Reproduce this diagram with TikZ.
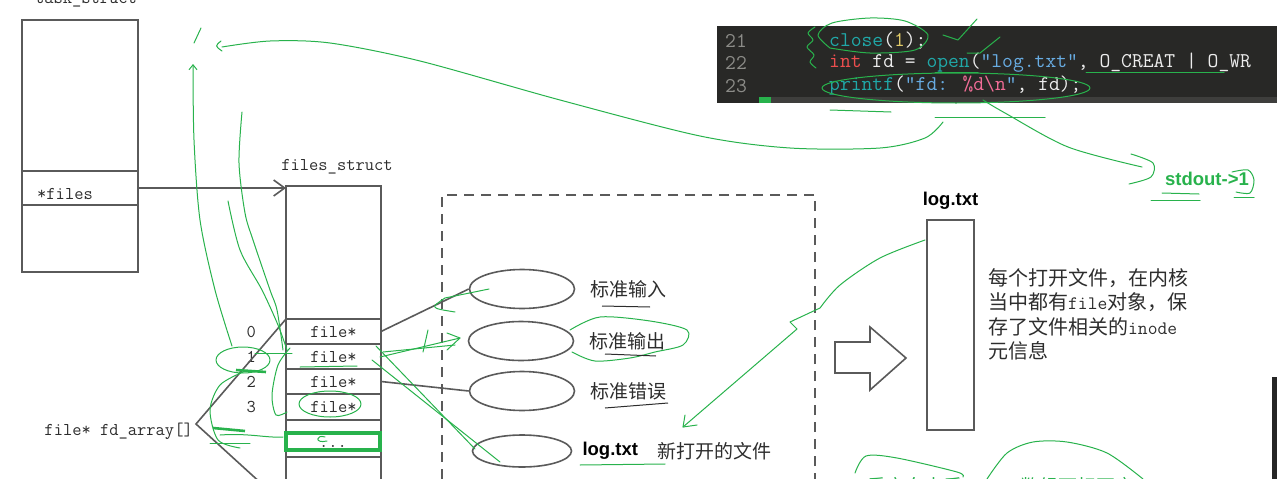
\documentclass[tikz,border=0pt]{standalone}
\usepackage{fontspec}
\newfontfamily\cjkfont{Noto Sans CJK SC}
\newfontfamily\headfont{Liberation Sans}
\usetikzlibrary{shapes.geometric, arrows.meta, positioning, calc}

\definecolor{linegray}{RGB}{90,90,90}
\definecolor{txtgray}{RGB}{45,45,45}
\definecolor{annot}{RGB}{40,178,76}
\definecolor{codebg}{RGB}{40,40,38}
\definecolor{codestrip}{RGB}{62,62,60}
\definecolor{lnum}{RGB}{140,140,136}
\definecolor{ckw}{RGB}{32,168,168}
\definecolor{cint}{RGB}{236,78,78}
\definecolor{cnum}{RGB}{226,204,104}
\definecolor{cstr}{RGB}{104,172,226}
\definecolor{cfmt}{RGB}{240,108,150}
\definecolor{cplain}{RGB}{236,236,236}

\begin{document}
\begin{tikzpicture}[
    x=1pt, y=-1pt,
    part/.style={
      draw=linegray, line width=1.6pt, outer sep=0pt, inner sep=0pt,
      minimum width=95pt, minimum height=#1,
      font=\ttfamily\fontsize{18}{20}\selectfont, text=txtgray
    },
    lbl/.style={font=\ttfamily\fontsize{18}{20}\selectfont, text=txtgray, inner sep=0pt},
    oval/.style={
      ellipse, draw=linegray, line width=1.6pt, inner sep=0pt,
      minimum width=105pt, minimum height=39pt
    },
    zh/.style={font=\cjkfont\fontsize{19}{22}\selectfont, text=txtgray, inner sep=0pt},
    boldlbl/.style={font=\headfont\bfseries\fontsize{18.5}{21}\selectfont, inner sep=0pt},
    codeline/.style={font=\ttfamily\fontsize{21}{24}\selectfont, text=cplain, anchor=west, inner sep=0pt},
    lineno/.style={font=\ttfamily\fontsize{21}{24}\selectfont, text=lnum, anchor=west, inner sep=0pt},
    conn/.style={draw=linegray, line width=1.6pt},
    note/.style={draw=annot, line width=1pt, line cap=round, line join=round},
    hilite/.style={draw=annot, line width=2.6pt}
  ]
  \useasboundingbox (0,0) rectangle (1277,479);
  \clip (0,0) rectangle (1277,479);

  % ===== task_struct =====
  \node[part=151pt, minimum width=116pt, anchor=north west] (taskTop) at (22,20) {};
  \node[part=34pt, minimum width=116pt, below=0pt of taskTop] (taskFiles) {};
  \node[part=67pt, minimum width=116pt, below=0pt of taskFiles] (taskBot) {};
  \node[lbl, anchor=base] (taskName) at (86,4) {task\_struct};
  \node[lbl, anchor=west] (filesPtr) at (37,194) {*files};

  % ===== files_struct =====
  \node[part=133pt, anchor=north west] (filesTop) at (286,186) {};
  \node[part=25pt, below=0pt of filesTop] (slot0) {file*};
  \node[part=25pt, below=0pt of slot0] (slot1) {file*};
  \node[part=25pt, below=0pt of slot1] (slot2) {file*};
  \node[part=26pt, below=0pt of slot2] (slot3) {file*};
  \node[part=37pt, below=0pt of slot3] (slot4) {};
  \node[part=73pt, below=0pt of slot4] (slotRest) {};
  \node[lbl, anchor=base] (filesName) at (337,170) {files\_struct};
  \node[lbl] (more) at (333,446) {...};

  \draw[conn, -{Straight Barb[length=11pt, width=16pt]}] (taskFiles.east) -- (taskFiles.east -| filesTop.west);

  \foreach \i in {0,...,3}
    \node[lbl, left=30pt of slot\i] (idx\i) {\i};

  % fd_array
  \node[lbl, anchor=base east] (fdArray) at (193,435) {file* fd\_array[]};
  \coordinate (apex) at (196,424);
  \coordinate (arrEnd) at (286,506);
  \draw[conn] (slot0.north west) -- (apex) -- (arrEnd);

  % ===== file objects =====
  \node[draw=linegray, line width=1.6pt, dash pattern=on 10pt off 7pt, outer sep=0pt,
        minimum width=373pt, minimum height=340pt, anchor=north west] (kernel) at (442,195) {};
  \node[oval] (stdinObj)  at (522,289) {};
  \node[oval] (stdoutObj) at (521,341) {};
  \node[oval] (stderrObj) at (522,391) {};
  \node[oval, minimum width=99pt, minimum height=32pt] (logObj) at (522,451) {};

  \node[zh, right=15pt of stdinObj]  (stdinName)  {标准输入};
  \node[zh, right=15pt of stdoutObj] (stdoutName) {标准输出};
  \node[zh, right=15pt of stderrObj] (stderrName) {标准错误};
  \node[boldlbl, right=10pt of logObj] (logName) {log.txt};
  \node[zh, right=19pt of logName] (logNote) {新打开的文件};

  \draw[conn] (slot0.east) -- (stdinObj.west);
  \draw[conn] (slot2.east) -- (stderrObj.west);

  % ===== block arrow and log.txt =====
  \draw[conn] (835,342) -- ++(35,0) -- ++(0,-15) -- (906,358) -- (870,390) -- ++(0,-17) -- ++(-35,0) -- cycle;
  \node[part=210pt, minimum width=47pt, anchor=north west] (logFile) at (927,220) {};
  \node[boldlbl, above=10pt of logFile] (logTitle) {log.txt};
  \node[zh, font=\cjkfont\fontsize{20}{24.5}\selectfont, align=left, anchor=north west] (inodeNote) at (988,268)
    {每个打开文件，在内核\\当中都有{\ttfamily\fontsize{19}{24.5}\selectfont file}对象，保\\存了文件相关的{\ttfamily\fontsize{19}{24.5}\selectfont inode}\\元信息};

  % ===== code screenshot =====
  \node[fill=codebg, inner sep=0pt, minimum width=560pt, minimum height=77pt, anchor=north west] (codeBox) at (717,26) {};
  \fill[codestrip] (771,97) rectangle (1277,103);
  \fill[annot] (759,97) rectangle (771,103);
  \node[lineno] (ln21) at (725,41) {21};
  \node[lineno] (ln22) at (725,63) {22};
  \node[lineno] (ln23) at (725,86) {23};
  \node[codeline] (src21) at (829,41) {\textcolor{ckw}{close}(\textcolor{cnum}{1});};
  \node[codeline] (src22) at (829,63) {\textcolor{cint}{int} fd = \textcolor{ckw}{open}(\textcolor{cstr}{"log.txt"}, O\_CREAT | O\_WR};
  \node[codeline] (src23) at (829,86) {\textcolor{ckw}{printf}(\textcolor{cstr}{"fd: }\textcolor{cfmt}{\%d\textbackslash n}\textcolor{cstr}{"}, fd);};

  \fill[black!85] (1272,377) rectangle (1277,479);

  % ===== green notes =====
  \draw[note] plot[smooth] coordinates {(830,48) (818,35) (832,23) (870,18) (905,21) (928,35) (915,50) (870,53) (830,48)};
  \draw[note] plot[smooth] coordinates {(815,27) (808,33) (813,40) (807,47) (814,55) (810,62) (816,68)};
  \draw[note] (943,35) -- (958,40) -- (977,19);
  \draw[note] (967,53) -- (980,53) -- (1000,37);
  \draw[note] (956,88) ellipse [x radius=134, y radius=15];
  \draw[note] (935,72) -- (978,72);
  \draw[note] (1086,72) -- (1224,72);
  \draw[note] (830,110) -- (891,112);
  \draw[note] (935,117) -- (1045,117);
  \draw[note] plot[smooth] coordinates {(983,100) (1005,113) (1068,147) (1142,167)};
  \draw[note] plot[smooth] coordinates {(1131,154) (1153,163) (1151,177) (1129,184)};
  \node[font=\headfont\bfseries\fontsize{18.5}{21}\selectfont, text=annot, inner sep=0pt] (stdoutTag) at (1207,179) {stdout->1};
  \draw[note] (1162,193) -- (1199,194);
  \draw[note] (1151,200) -- (1200,200);
  \draw[note] plot[smooth] coordinates {(1232,172) (1248,170) (1254,180) (1250,193) (1236,192)};
  \draw[note] (1234,197) -- (1254,197);

  \draw[note] plot[smooth] coordinates {(943,122) (925,138) (880,148) (790,148) (700,136) (560,100) (420,61) (330,43) (270,41) (222,47)};
  \draw[note] (221,41) .. controls (215,46) .. (222,51);
  \draw[note] (201,28) -- (194,43);
  \draw[note, -{Straight Barb[length=5pt, width=8pt]}] plot[smooth] coordinates {(232,346) (215,290) (200,220) (194,140) (193,64)};
  \draw[note] plot[smooth] coordinates {(242,112) (239,163) (245,213) (253,240) (270,290) (277,310) (283,350)};
  \draw[note] plot[smooth] coordinates {(228,201) (240,250) (262,290) (278,325) (287,350)};

  \draw[note] (243,360) ellipse [x radius=27, y radius=13];
  \draw[hilite] (236,370) -- (266,372);
  \draw[note] (255,353) -- (292,353);
  \draw[note] (300,367) -- (357,366);
  \draw[note] (330,404) ellipse [x radius=31, y radius=13];
  \draw[note] plot[smooth] coordinates {(290,348) (278,365) (272,395) (276,415) (287,412)};
  \draw[note] plot[smooth] coordinates {(243,372) (220,385) (210,410) (218,440) (240,448)};
  \draw[hilite] (213,428) -- (245,431);
  \draw[note] (210,443) -- (250,443);
  \draw[note] (220,435) .. controls (250,433) and (265,438) .. (283,437);
  \draw[hilite, line width=3.6pt] (286,433) rectangle (380,450);
  \draw[note] (325,437) .. controls (316,434) and (314,444) .. (327,441);

  \draw[note] (380,357) -- (460,338);
  \draw[note] (383,352) -- (455,345);
  \draw[note] (447,333) -- (460,338) -- (447,350);
  \draw[note] (428,330) -- (423,352);
  \draw[note] (376,346) -- (475,449);
  \draw[note] (372,360) -- (500,462);
  \draw[note] (489,289) -- (445,298) .. controls (430,308) .. (455,312);

  \draw[note] plot[smooth] coordinates {(570,330) (600,317) (650,321) (687,330) (683,345) (655,352) (630,358) (595,361) (572,352)};
  \draw[txtgray, line width=1pt] (602,306) -- (650,307);
  \draw[txtgray, line width=1pt] (605,354) -- (656,356);
  \draw[txtgray, line width=1pt] (605,408) -- (668,403);
  \draw[note] (580,465) -- (665,464);

  \draw[note] plot[smooth] coordinates {(925,240) (880,258) (840,285) (820,308)} -- (790,322) -- (797,329) -- (683,427);
  \draw[note] (685,415) -- (683,427) -- (697,425);

  \draw[note] plot[smooth] coordinates {(855,473) (866,456) (897,458) (957,472) (963,477)};
  \draw[note] plot[smooth] coordinates {(987,479) (1007,453) (1033,442) (1067,442) (1107,453) (1143,479)};
  \node[zh, text=annot] (redirNote) at (915,486) {重定向本质};
  \node[zh, text=annot] (indexNote) at (1077,486) {数组下标不变};
\end{tikzpicture}
\end{document}
